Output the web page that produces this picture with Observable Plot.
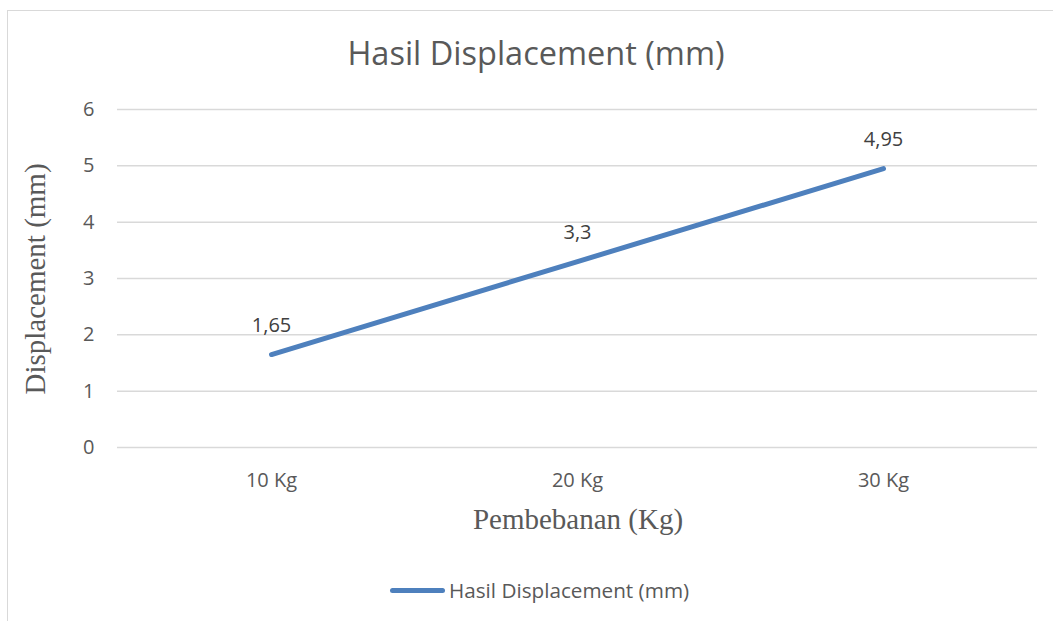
<!DOCTYPE html>
<html>
<head>
<meta charset="utf-8">
<script src="https://cdn.jsdelivr.net/npm/d3@7"></script>
<script src="https://cdn.jsdelivr.net/npm/@observablehq/plot@0.6"></script>
<style>
  html, body { margin: 0; padding: 0; background: #fff; }
  #wrap { position: relative; width: 1053px; height: 621px; overflow: hidden; font-family: "Open Sans", sans-serif; color: #595959; }
  #frame { position: absolute; left: 7px; top: 10px; width: 1200px; height: 800px; border: 1.5px solid #d9d9d9; box-sizing: border-box; }
  #chart { position: absolute; left: 0; top: 0; }
  .abs { position: absolute; white-space: nowrap; }
  #title { left: 536px; top: 37px; transform: translateX(-50%); font-size: 32.5px; line-height: 1; }
  #ylab { left: 35px; top: 279px; transform: translate(-50%, -50%) rotate(-90deg); font-family: "Liberation Serif", serif; font-size: 29px; line-height: 1; }
  #xlab { left: 578px; top: 505px; transform: translateX(-50%); font-family: "Liberation Serif", serif; font-size: 29px; line-height: 1; }
  #legend { left: 390px; top: 576px; display: flex; align-items: center; font-size: 20.7px; }
  #legend .sw { width: 55px; height: 5px; border-radius: 3px; background: #4e80bd; margin-right: 4px; }
</style>
</head>
<body>
<div id="wrap">
  <div id="frame"></div>
  <div id="chart"></div>
  <div id="title" class="abs">Hasil Displacement (mm)</div>
  <div id="ylab" class="abs">Displacement (mm)</div>
  <div id="xlab" class="abs">Pembebanan (Kg)</div>
  <div id="legend" class="abs"><span class="sw"></span><span id="legtext">Hasil Displacement (mm)</span></div>
</div>
<script>
const categories = ["10 Kg", "20 Kg", "30 Kg"];
const displacement = [1.65, 3.3, 4.95];
const labels = ["1,65", "3,3", "4,95"];
const yTicks = [0, 1, 2, 3, 4, 5, 6];
const seriesName = "Hasil Displacement (mm)";

const data = categories.map((c, i) => ({cat: c, value: displacement[i], label: labels[i]}));

const chart = Plot.plot({
  width: 1053,
  height: 621,
  marginLeft: 117,
  marginRight: 16,
  marginTop: 109,
  marginBottom: 174,
  style: {fontFamily: "'Open Sans', sans-serif", fontSize: "20px", color: "#595959", background: "transparent", overflow: "visible"},
  x: {type: "point", domain: categories, padding: 0.5, label: null},
  y: {domain: [0, 6], ticks: yTicks, label: null},
  marks: [
    Plot.gridY(yTicks, {stroke: "#d9d9d9", strokeOpacity: 1, strokeWidth: 1.5}),
    Plot.axisY(yTicks, {tickSize: 0, tickPadding: 23, tickFormat: d => String(d), fill: "#595959", fontSize: 20, label: null}),
    Plot.axisX({tickSize: 0, tickPadding: 25, fill: "#595959", fontSize: 20, label: null}),
    Plot.line(data, {x: "cat", y: "value", stroke: "#4e80bd", strokeWidth: 5, strokeLinecap: "round", strokeLinejoin: "round"}),
    Plot.text(data, {x: "cat", y: "value", text: "label", lineAnchor: "bottom", dy: -23, fill: "#404040", fontSize: 20})
  ]
});
document.getElementById("chart").appendChild(chart);
document.getElementById("legtext").textContent = seriesName;
</script>
</body>
</html>
